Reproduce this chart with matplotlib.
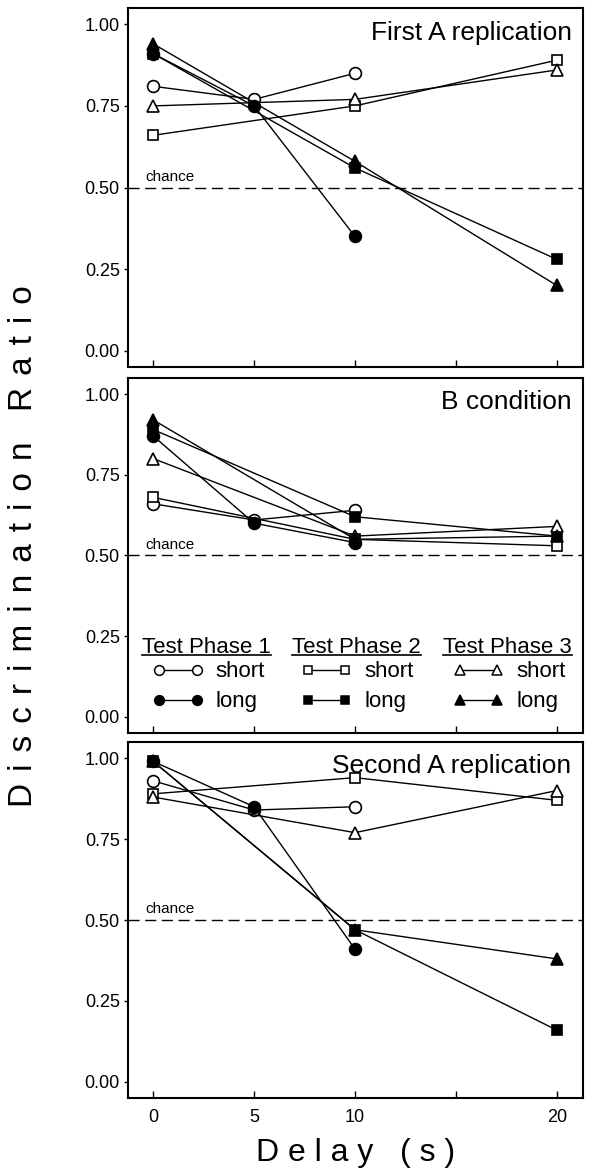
import matplotlib
matplotlib.use('Agg')
import matplotlib.pyplot as plt
from matplotlib.lines import Line2D
from matplotlib.legend import Legend

plt.rcParams['font.family'] = ['Liberation Sans', 'DejaVu Sans']

# delays tested (s)
delays_p1 = [0, 5, 10]
delays_p23 = [0, 10, 20]

panel_titles = ['First A replication', 'B condition', 'Second A replication']
phase_names = ['Test Phase 1', 'Test Phase 2', 'Test Phase 3']

# First A replication
a1_p1_short = [0.81, 0.77, 0.85]
a1_p1_long = [0.91, 0.75, 0.35]
a1_p2_short = [0.66, 0.75, 0.89]
a1_p2_long = [0.91, 0.56, 0.28]
a1_p3_short = [0.75, 0.77, 0.86]
a1_p3_long = [0.94, 0.58, 0.20]

# B condition
b_p1_short = [0.66, 0.61, 0.64]
b_p1_long = [0.87, 0.60, 0.54]
b_p2_short = [0.68, 0.55, 0.53]
b_p2_long = [0.89, 0.62, 0.56]
b_p3_short = [0.80, 0.56, 0.59]
b_p3_long = [0.92, 0.55, 0.56]

# Second A replication
a2_p1_short = [0.93, 0.84, 0.85]
a2_p1_long = [0.99, 0.85, 0.41]
a2_p2_short = [0.89, 0.94, 0.87]
a2_p2_long = [0.99, 0.47, 0.16]
a2_p3_short = [0.88, 0.77, 0.90]
a2_p3_long = [0.99, 0.47, 0.38]

panels = [
    [a1_p1_short, a1_p1_long, a1_p2_short, a1_p2_long, a1_p3_short, a1_p3_long],
    [b_p1_short, b_p1_long, b_p2_short, b_p2_long, b_p3_short, b_p3_long],
    [a2_p1_short, a2_p1_long, a2_p2_short, a2_p2_long, a2_p3_short, a2_p3_long],
]

yticks = [0.0, 0.25, 0.5, 0.75, 1.0]
xticks = [0, 5, 10, 15, 20]
xticklabels = ['0', '5', '10', '', '20']
chance = 0.5

# style per series: (x, marker, facecolor, size)
styles = [
    (delays_p1, 'o', 'white', 8.5),
    (delays_p1, 'o', 'black', 8.5),
    (delays_p23, 's', 'white', 7.5),
    (delays_p23, 's', 'black', 7.5),
    (delays_p23, '^', 'white', 8.5),
    (delays_p23, '^', 'black', 8.5),
]

fig = plt.figure(figsize=(5.93, 11.73), dpi=100)
L, W = 0.216, 0.767
boxes = [(0.6871, 0.3061), (0.3751, 0.3027), (0.0639, 0.3035)]

axes = []
for i, (bottom, h) in enumerate(boxes):
    ax = fig.add_axes([L, bottom, W, h])
    axes.append(ax)
    for vals, (xs, mk, fc, ms) in zip(panels[i], styles):
        ax.plot(xs, vals, color='black', lw=1, marker=mk, mfc=fc, mec='black',
                ms=ms, mew=1.2)
    ax.axhline(chance, color='black', lw=1, dashes=(8, 4))
    ax.text(-0.4, chance + 0.012, 'chance', fontsize=11, va='bottom', ha='left')
    ax.text(0.975, 0.965, panel_titles[i], transform=ax.transAxes, fontsize=19,
            ha='right', va='top')
    ax.set_xlim(-1.25, 21.3)
    ax.set_ylim(-0.05, 1.05)
    ax.set_yticks(yticks)
    ax.set_yticklabels(['%.2f' % v for v in yticks], fontsize=13)
    ax.set_xticks(xticks)
    if i == 2:
        ax.set_xticklabels(xticklabels, fontsize=13)
    else:
        ax.set_xticklabels([])
    ax.tick_params(axis='x', direction='in', length=5, width=1, pad=8)
    ax.tick_params(axis='y', direction='out', length=3, width=1, pad=3)
    for s in ax.spines.values():
        s.set_linewidth(1.5)

# legend in the B panel: header + one small legend per test phase
ax = axes[1]
headers = []
for j, (hx, lx) in enumerate([(0.031, 0.053), (0.360, 0.380), (0.692, 0.714)]):
    xs, mk, fc, ms = styles[2 * j]
    headers.append(ax.text(hx, 0.225, phase_names[j], transform=ax.transAxes,
                           fontsize=16, ha='left', va='baseline'))
    h_short = Line2D([], [], color='black', lw=1, marker=mk, mfc='white', mec='black',
                     ms=ms - 1.5, mew=1.1)
    h_long = Line2D([], [], color='black', lw=1, marker=mk, mfc='black', mec='black',
                    ms=ms - 1.5, mew=1.1)
    leg = Legend(ax, [h_short, h_long], ['short', 'long'],
                 loc='center left', bbox_to_anchor=(lx, 0.13),
                 frameon=False, fontsize=16, numpoints=2,
                 handlelength=2.3, handletextpad=0.55, labelspacing=0.4,
                 borderpad=0, borderaxespad=0)
    ax.add_artist(leg)

sp = ' \u200a'
fig.text(0.04, 0.5345, sp.join('Discrimination') + '  ' + sp + sp.join('Ratio'),
         rotation=90, fontsize=24, ha='center', va='center')
fig.text(0.6, 0.017, 'D e l a y   ( s )', fontsize=23, ha='center', va='center')

# underline the phase headers
fig.canvas.draw()
r = fig.canvas.get_renderer()
for t in headers:
    bb = t.get_window_extent(r).transformed(fig.transFigure.inverted())
    fig.add_artist(Line2D([bb.x0, bb.x1], [bb.y0 + 0.0025, bb.y0 + 0.0025],
                          transform=fig.transFigure, color='black', lw=1.2))

plt.savefig('out.png', dpi=100)
